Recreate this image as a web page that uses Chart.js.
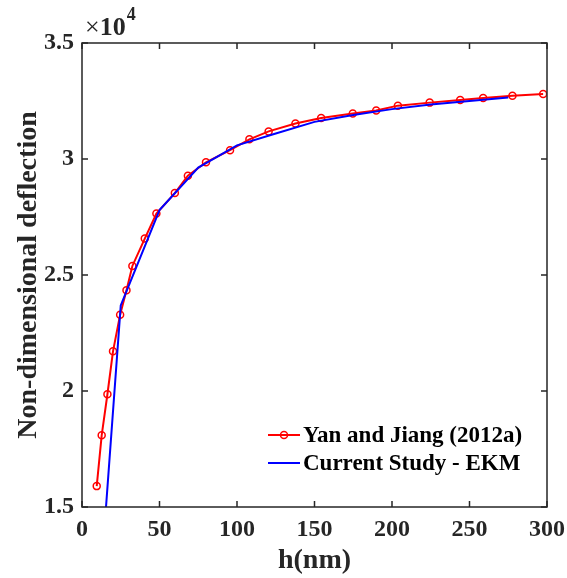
<!DOCTYPE html>
<html>
<head>
<meta charset="utf-8">
<script src="https://cdn.jsdelivr.net/npm/chart.js@4.4.1/dist/chart.umd.min.js"></script>
<style>
  html, body { margin: 0; padding: 0; background: #fff; }
</style>
</head>
<body>
<canvas id="deflectionChart" width="567" height="578"></canvas>
<script>
// Yan and Jiang (2012a) - red with circles
const yanX = [9.5, 12.7, 16.4, 20, 24.6, 28.7, 32.5, 40.5, 48, 59.9, 68.3, 80, 95.5, 108, 120.4, 137.7, 154.3, 174.7, 189.8, 203.8, 224.3, 244, 258.8, 277.7, 297.5];
const yanY = [15900, 18090, 19860, 21710, 23290, 24340, 25390, 26570, 27650, 28530, 29280, 29860, 30380, 30850, 31190, 31530, 31770, 31960, 32090, 32300, 32430, 32540, 32630, 32730, 32800];

// Current Study - EKM - blue line
const ekmX = [15, 25, 50, 75, 100, 125, 150, 175, 200, 225, 250, 275];
const ekmY = [14550, 23690, 27800, 29630, 30590, 31100, 31600, 31900, 32150, 32350, 32500, 32650];

const xTicks = [0, 50, 100, 150, 200, 250, 300];
const yTicks = [15000, 20000, 25000, 30000, 35000];

const serif = "'Liberation Serif', 'Times New Roman', serif";
const axisColor = "#262626";

function toPoints(xs, ys) {
  return xs.map(function (x, i) { return { x: x, y: ys[i] }; });
}

// box, inward ticks, exponent and legend like the matlab figure
const matlabAxes = {
  id: "matlabAxes",
  afterDraw: function (chart) {
    const ctx = chart.ctx;
    const a = chart.chartArea;
    const xs = chart.scales.x;
    const ys = chart.scales.y;
    const tl = 6;
    ctx.save();
    ctx.strokeStyle = axisColor;
    ctx.lineWidth = 1.5;
    ctx.strokeRect(a.left, a.top, a.right - a.left, a.bottom - a.top);
    ctx.beginPath();
    xTicks.forEach(function (v) {
      const px = xs.getPixelForValue(v);
      ctx.moveTo(px, a.bottom); ctx.lineTo(px, a.bottom - tl);
      ctx.moveTo(px, a.top); ctx.lineTo(px, a.top + tl);
    });
    yTicks.forEach(function (v) {
      const py = ys.getPixelForValue(v);
      ctx.moveTo(a.left, py); ctx.lineTo(a.left + tl, py);
      ctx.moveTo(a.right, py); ctx.lineTo(a.right - tl, py);
    });
    ctx.stroke();

    // x10^4
    ctx.fillStyle = axisColor;
    ctx.textBaseline = "alphabetic";
    ctx.textAlign = "left";
    ctx.font = "26px " + serif;
    ctx.fillText("\u00d7", a.left + 3, a.top - 8);
    const w1 = ctx.measureText("\u00d7").width;
    ctx.font = "bold 26px " + serif;
    ctx.fillText("10", a.left + 3 + w1, a.top - 8);
    const w2 = ctx.measureText("10").width;
    ctx.font = "bold 18px " + serif;
    ctx.fillText("4", a.left + 4 + w1 + w2, a.top - 23);

    // legend
    const ds = chart.data.datasets;
    const lx = 268, lw = 32;
    const rows = [435, 463];
    ctx.font = "bold 23px " + serif;
    ctx.textBaseline = "middle";
    ds.forEach(function (d, i) {
      const y = rows[i];
      ctx.strokeStyle = d.borderColor;
      ctx.lineWidth = 2;
      ctx.beginPath();
      ctx.moveTo(lx, y); ctx.lineTo(lx + lw, y);
      ctx.stroke();
      if (d.pointRadius > 0) {
        ctx.beginPath();
        ctx.arc(lx + lw / 2, y, d.pointRadius, 0, Math.PI * 2);
        ctx.lineWidth = d.pointBorderWidth;
        ctx.stroke();
      }
      ctx.fillStyle = "#000";
      ctx.fillText(d.label, lx + lw + 3, y + 1);
    });
    ctx.restore();
  },
};

const ctx = document.getElementById("deflectionChart").getContext("2d");

new Chart(ctx, {
  type: "line",
  data: {
    datasets: [
      {
        label: "Yan and Jiang (2012a)",
        data: toPoints(yanX, yanY),
        borderColor: "#ff0000",
        backgroundColor: "#ff0000",
        borderWidth: 2,
        pointRadius: 3.5,
        pointBorderWidth: 1.5,
        pointBackgroundColor: "rgba(0,0,0,0)",
        pointBorderColor: "#ff0000",
        tension: 0,
        order: 1,
      },
      {
        label: "Current Study - EKM",
        data: toPoints(ekmX, ekmY),
        borderColor: "#0000ff",
        backgroundColor: "#0000ff",
        borderWidth: 2,
        pointRadius: 0,
        pointBorderWidth: 0,
        tension: 0,
        order: 0,
      },
    ],
  },
  options: {
    responsive: false,
    animation: false,
    layout: {
      padding: { top: 43, right: 20, left: 0, bottom: 0 },
    },
    plugins: {
      legend: { display: false },
      tooltip: { enabled: false },
    },
    scales: {
      x: {
        type: "linear",
        min: 0,
        max: 300,
        afterFit: function (s) {
          s.height = 71;
          s.paddingLeft = 0;
          s.paddingRight = 0;
        },
        afterBuildTicks: function (s) { s.ticks = xTicks.map(function (v) { return { value: v }; }); },
        grid: { display: false, drawTicks: false },
        border: { display: false },
        ticks: {
          padding: 8,
          color: axisColor,
          font: { family: serif, size: 24, weight: "bold" },
        },
        title: {
          display: true,
          text: "h(nm)",
          color: axisColor,
          font: { family: serif, size: 28, weight: "bold" },
          padding: { top: 0, bottom: 0 },
        },
      },
      y: {
        min: 15000,
        max: 35000,
        afterFit: function (s) {
          s.width = 82;
          s.paddingTop = 0;
          s.paddingBottom = 0;
        },
        afterBuildTicks: function (s) { s.ticks = yTicks.map(function (v) { return { value: v }; }); },
        grid: { display: false, drawTicks: false },
        border: { display: false },
        ticks: {
          padding: 8,
          color: axisColor,
          font: { family: serif, size: 24, weight: "bold" },
          callback: function (v) { return String(v / 10000); },
        },
        title: {
          display: true,
          text: "Non-dimensional deflection",
          color: axisColor,
          font: { family: serif, size: 28, weight: "bold" },
          padding: { top: 12, bottom: 0 },
        },
      },
    },
  },
  plugins: [matlabAxes],
});
</script>
</body>
</html>
